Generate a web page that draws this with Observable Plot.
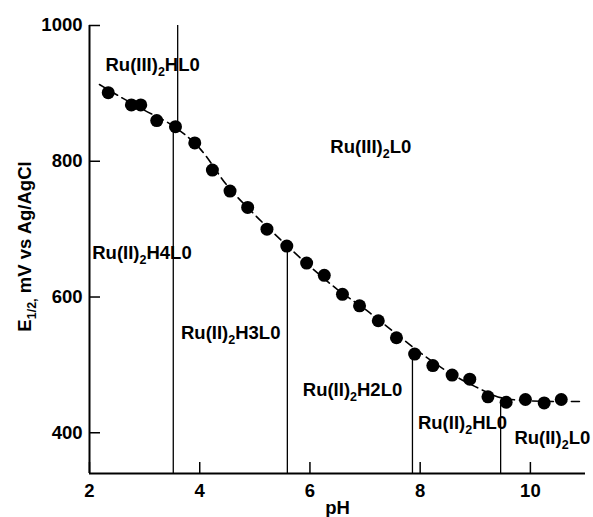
<!DOCTYPE html>
<html><head><meta charset="utf-8">
<script src="https://cdn.jsdelivr.net/npm/d3@7"></script>
<script src="https://cdn.jsdelivr.net/npm/@observablehq/plot@0.6"></script>
<style>body{margin:0;background:#fff}</style>
</head><body><div id="chart"></div>
<script>
// measured points
const pH = [2.34, 2.76, 2.93, 3.22, 3.56, 3.91, 4.23, 4.55, 4.87, 5.22, 5.58, 5.94, 6.26, 6.59, 6.90, 7.24, 7.57, 7.90, 8.23, 8.58, 8.90, 9.23, 9.56, 9.91, 10.25, 10.56];
const E = [901, 883, 883, 860, 851, 827, 787, 756, 732, 700, 675, 650, 632, 604, 587, 565, 540, 516, 499, 485, 479, 453, 445, 449, 444, 449];
// dashed fit curve
const fitPH = [2.18, 2.6, 3.0, 3.5, 4.0, 4.5, 5.0, 5.5, 6.0, 6.5, 7.0, 7.5, 8.0, 8.5, 9.0, 9.5, 10.0, 10.5, 10.95];
const fitE = [913, 893, 875, 853, 819, 764, 721, 682, 645, 611, 582, 550, 518, 490, 468, 451, 447, 446, 446];
// vertical boundary lines
const lineX = [3.60, 3.52, 5.59, 7.86, 9.46];
const lineTop = [1000, 843, 668, 512, 441];
const lineBottom = [851, 340, 340, 340, 340];
// species labels
const labelText = ["Ru(III)_{2}HL0", "Ru(III)_{2}L0", "Ru(II)_{2}H4L0", "Ru(II)_{2}H3L0", "Ru(II)_{2}H2L0", "Ru(II)_{2}HL0", "Ru(II)_{2}L0"];
const labelX = [2.29, 6.37, 2.05, 3.66, 5.87, 7.96, 9.71];
const labelY = [942, 821, 665, 547, 463, 414, 392];
// axes
const xTicks = [2, 4, 6, 8, 10];
const yTicks = [400, 600, 800, 1000];
const xTitle = "pH";
const yTitle = "E_{1/2,} mV vs Ag/AgCl";

const points = pH.map((x, i) => ({x, y: E[i]}));
const fit = fitPH.map((x, i) => ({x, y: fitE[i]}));
const vlines = lineX.map((x, i) => ({x, y1: lineTop[i], y2: lineBottom[i]}));
const labels = labelText.map((t, i) => ({t, x: labelX[i], y: labelY[i]}));

const FS = 18.5;
const chart = Plot.plot({
  width: 593, height: 517,
  marginLeft: 89, marginRight: 8, marginTop: 25, marginBottom: 44,
  style: {fontFamily: "'Liberation Sans', Arial, sans-serif", fontSize: FS + "px", fontWeight: "bold", background: "#fff", color: "#000"},
  x: {domain: [2, 11]},
  y: {domain: [340, 1000]},
  marks: [
    Plot.axisX(xTicks, {tickSize: 0, tickPadding: 10, tickFormat: "d", label: null, fontSize: FS, fontWeight: "bold"}),
    Plot.axisY(yTicks, {tickSize: 0, tickPadding: 7, tickFormat: "d", label: null, fontSize: FS, fontWeight: "bold"}),
    Plot.ruleX(xTicks, {x: d => d, y1: 340, y2: 340, insetTop: -11, strokeWidth: 1.5}),
    Plot.ruleY(yTicks, {y: d => d, x1: 2, x2: 2, insetRight: -11, strokeWidth: 1.5}),
    Plot.ruleX([2], {strokeWidth: 2}),
    Plot.ruleY([340], {strokeWidth: 2}),
    Plot.ruleX(vlines, {x: "x", y1: "y1", y2: "y2", strokeWidth: 1.3}),
    Plot.line(fit, {x: "x", y: "y", curve: "monotone-x", stroke: "#000", strokeWidth: 1.6, strokeDasharray: "8,5"}),
    Plot.dot(points, {x: "x", y: "y", r: 6.5, fill: "#000", stroke: "none"}),
    Plot.text(labels, {x: "x", y: "y", text: "t", textAnchor: "start", fontSize: FS, fontWeight: "bold"}),
    Plot.text([xTitle], {frameAnchor: "bottom", textAnchor: "middle", lineAnchor: "middle", dy: 35, text: d => d, fontSize: FS, fontWeight: "bold"}),
    Plot.text([yTitle], {frameAnchor: "left", textAnchor: "middle", lineAnchor: "middle", dx: -64, dy: -3, rotate: -90, text: d => d, fontSize: FS, fontWeight: "bold"})
  ]
});

chart.querySelectorAll("text").forEach(t => {
  const s = t.textContent;
  if (!s.includes("_{")) return;
  t.textContent = "";
  const parts = s.split(/_\{([^}]*)\}/);
  let shifted = false;
  parts.forEach((p, i) => {
    if (!p) return;
    const ts = document.createElementNS("http://www.w3.org/2000/svg", "tspan");
    ts.textContent = p;
    if (i % 2 === 1) { ts.setAttribute("font-size", "12.5"); ts.setAttribute("dy", "5"); shifted = true; }
    else if (shifted) { ts.setAttribute("dy", "-5"); shifted = false; }
    t.appendChild(ts);
  });
});

document.getElementById("chart").appendChild(chart);
</script>
</body></html>
